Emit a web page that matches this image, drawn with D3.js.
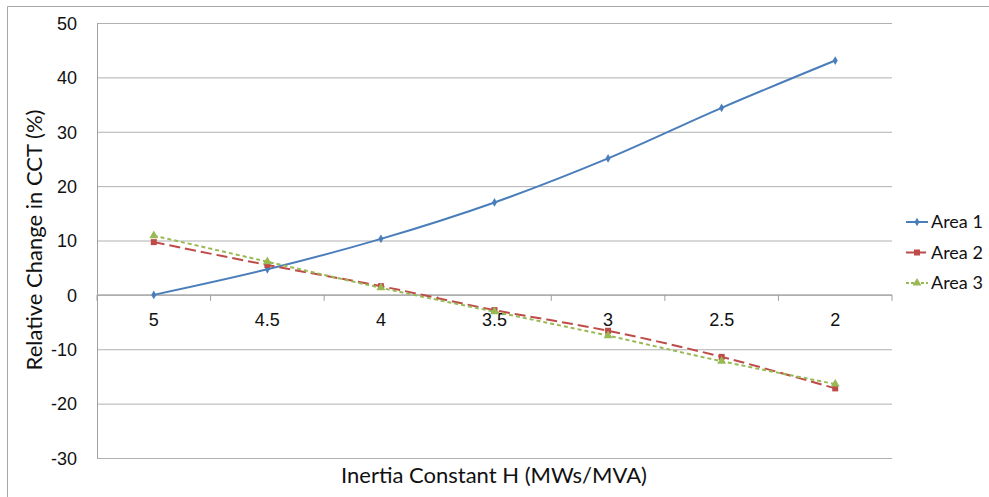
<!DOCTYPE html>
<html>
<head>
<meta charset="utf-8">
<script src="https://cdn.jsdelivr.net/npm/d3@7"></script>
<style>
  body { margin: 0; background: #fff; }
  svg { display: block; font-family: Lato, "Open Sans", sans-serif; }
  .grid line { stroke: #b0b0b0; stroke-width: 1; }
  .axis path, .axis line { stroke: #a0a0a0; }
  .axis text { fill: #111; font-size: 18px; }
</style>
</head>
<body>
<div id="chart"></div>
<script>
const categories = ["5", "4.5", "4", "3.5", "3", "2.5", "2"];
const area1 = [0, 4.7, 10.3, 17.0, 25.1, 34.4, 43.1];
const area2 = [9.7, 5.5, 1.6, -2.8, -6.6, -11.4, -17.2];
const area3 = [10.9, 6.1, 1.3, -3.1, -7.5, -12.2, -16.4];
const yTicks = [-30, -20, -10, 0, 10, 20, 30, 40, 50];
const seriesNames = ["Area 1", "Area 2", "Area 3"];

const width = 989;
const height = 497;
const margin = { top: 23, right: 97, bottom: 39, left: 97 };
const innerWidth = 892 - margin.left;
const innerHeight = 458 - margin.top;

const series = [
  { name: seriesNames[0], values: area1, color: "#4a7ebb", dash: null, legendDash: null, marker: "diamond" },
  { name: seriesNames[1], values: area2, color: "#be4b48", dash: "11,5", legendDash: "8,4", marker: "square" },
  { name: seriesNames[2], values: area3, color: "#98b954", dash: "4,3", legendDash: "3,2", marker: "triangle" }
];

const svg = d3.select("#chart")
  .append("svg")
  .attr("width", width)
  .attr("height", height);

// outer chart border: only its top and left edges fall inside the picture
svg.append("path")
  .attr("d", `M7.5,${height}V6.5H${width}`)
  .attr("fill", "none")
  .attr("stroke", "#a6a6a6");

const g = svg.append("g")
  .attr("transform", `translate(${margin.left}, ${margin.top})`);

const x = d3.scaleBand().domain(categories).range([0, innerWidth]).padding(0);
const y = d3.scaleLinear().domain([-30, 50]).range([innerHeight, 0]);
const cx = (i) => x(categories[i]) + x.bandwidth() / 2;

g.append("g")
  .attr("class", "grid")
  .call(d3.axisLeft(y).tickValues(yTicks).tickSize(-innerWidth).tickFormat(""))
  .call((s) => s.select(".domain").remove())
  .call((s) => s.selectAll("text").remove());

// value axis
g.append("g")
  .attr("class", "axis")
  .call(d3.axisLeft(y).tickValues(yTicks).tickSize(0).tickPadding(20).tickFormat((d) => String(d)))
  .call((s) => s.selectAll("text").attr("dy", "0.35em"));

// category axis crossing at zero
const xAxis = g.append("g")
  .attr("class", "axis")
  .attr("transform", `translate(0, ${y(0)})`)
  .call(d3.axisBottom(x).tickSize(0).tickPadding(18));
xAxis.select(".domain").attr("d", `M0,0H${innerWidth}`);
xAxis.selectAll(".bound")
  .data(d3.range(categories.length + 1))
  .enter()
  .append("line")
  .attr("class", "bound")
  .attr("x1", (i) => i * x.bandwidth())
  .attr("x2", (i) => i * x.bandwidth())
  .attr("y1", 0)
  .attr("y2", 6)
  .attr("stroke", "#a0a0a0");

const line = d3.line()
  .x((d, i) => cx(i))
  .y((d) => y(d))
  .curve(d3.curveCatmullRom.alpha(0.5));

const symbolFor = {
  diamond: d3.symbol().type(d3.symbolDiamond).size(22),
  square: d3.symbol().type(d3.symbolSquare).size(36),
  triangle: d3.symbol().type(d3.symbolTriangle).size(34)
};

series.forEach((s) => {
  g.append("path")
    .datum(s.values)
    .attr("fill", "none")
    .attr("stroke", s.color)
    .attr("stroke-width", 2)
    .attr("stroke-dasharray", s.dash)
    .attr("d", line);

  g.selectAll(null)
    .data(s.values)
    .enter()
    .append("path")
    .attr("transform", (d, i) => `translate(${cx(i)}, ${y(d)})`)
    .attr("d", symbolFor[s.marker]())
    .attr("fill", s.color);
});

// axis titles
svg.append("text")
  .attr("x", 494)
  .attr("y", 483)
  .attr("text-anchor", "middle")
  .attr("font-size", 22)
  .attr("fill", "#111")
  .text("Inertia Constant H (MWs/MVA)");

svg.append("text")
  .attr("transform", "translate(42, 240) rotate(-90)")
  .attr("text-anchor", "middle")
  .attr("font-size", 22)
  .attr("fill", "#111")
  .text("Relative Change in CCT (%)");

// legend
const legend = svg.append("g").attr("transform", "translate(906, 222)");
series.forEach((s, i) => {
  const row = legend.append("g").attr("transform", `translate(0, ${i * 30.5})`);
  row.append("line")
    .attr("x1", 0)
    .attr("x2", 22)
    .attr("stroke", s.color)
    .attr("stroke-width", 2)
    .attr("stroke-dasharray", s.legendDash);
  row.append("path")
    .attr("transform", "translate(11, 0)")
    .attr("d", symbolFor[s.marker]())
    .attr("fill", s.color);
  row.append("text")
    .attr("x", 25)
    .attr("dy", "0.35em")
    .attr("font-size", 18)
    .attr("fill", "#111")
    .text(s.name);
});
</script>
</body>
</html>
